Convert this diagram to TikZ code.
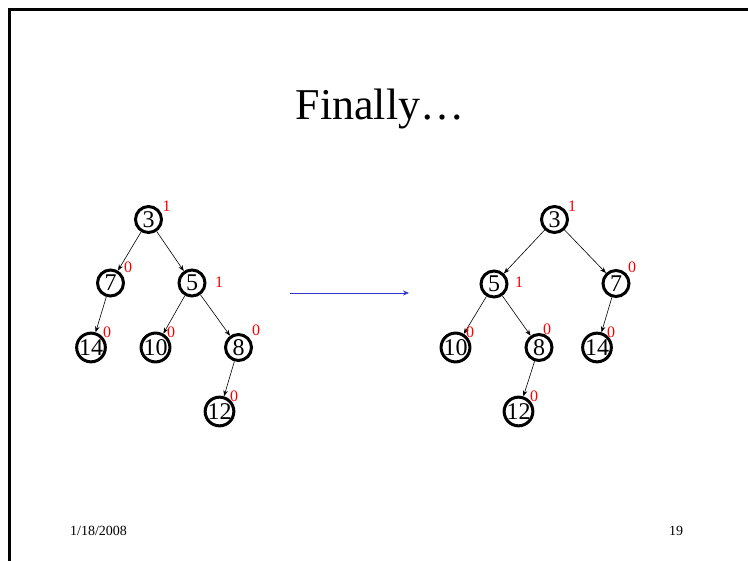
\documentclass[tikz,border=0pt]{standalone}
\usepackage{fontspec}
\setmainfont{Liberation Serif}
\usetikzlibrary{arrows.meta}
\definecolor{arrowblue}{RGB}{51,51,204}
\tikzset{
  tnode/.style={circle,draw=black,line width=3pt,minimum size=26pt,inner sep=0pt,font=\fontsize{24}{24}\selectfont},
  bal/.style={text=red,inner sep=0pt,font=\fontsize{16}{16}\selectfont},
  tedge/.style={draw=black,line width=0.6pt,-{Stealth[length=6pt,width=4.5pt]}},
  frameline/.style={draw=black,line width=2.4pt}
}
\begin{document}
\begin{tikzpicture}[x=1pt,y=-1pt]
\useasboundingbox (0,0) rectangle (748,561);
% frame
\coordinate (f1) at (9.5,561);
\coordinate (f2) at (9.5,9.5);
\coordinate (f3) at (748,9.5);
\draw[frameline] (f1) -- (f2) -- (f3);
% title
\node[anchor=base,inner sep=0pt,font=\fontsize{44}{44}\selectfont] (title) at (380,120) {Finally…};
% left tree
\node[tnode] (L3) at (148.5,219.5) {3};
\node[tnode] (L7) at (110.5,283) {7};
\node[tnode] (L5) at (192,283) {5};
\node[tnode] (L14) at (91,347.5) {14};
\node[tnode] (L10) at (155.5,347.5) {10};
\node[tnode] (L8) at (238.5,347.5) {8};
\node[tnode] (L12) at (219.5,411.5) {12};
\draw[tedge] (L3) -- (L7);
\draw[tedge] (L3) -- (L5);
\draw[tedge] (L7) -- (L14);
\draw[tedge] (L5) -- (L10);
\draw[tedge] (L5) -- (L8);
\draw[tedge] (L8) -- (L12);
\node[bal] (bL3) at (166.5,206) {1};
\node[bal] (bL7) at (128,267) {0};
\node[bal] (bL5) at (219,282) {1};
\node[bal] (bL14) at (107,332) {0};
\node[bal] (bL10) at (171,332) {0};
\node[bal] (bL8) at (256,330) {0};
\node[bal] (bL12) at (234,396) {0};
% arrow
\coordinate (a1) at (290,293);
\coordinate (a2) at (409,293);
\draw[arrowblue,line width=0.8pt,-{Stealth[length=6pt,width=5pt]}] (a1) -- (a2);
% right tree
\node[tnode] (R3) at (554.5,219.5) {3};
\node[tnode] (R5) at (494,284) {5};
\node[tnode] (R7) at (616,283.5) {7};
\node[tnode] (R10) at (455.5,347.5) {10};
\node[tnode] (R8) at (539,347.5) {8};
\node[tnode] (R14) at (597,347.5) {14};
\node[tnode] (R12) at (518.5,411.5) {12};
\draw[tedge] (R3) -- (R5);
\draw[tedge] (R3) -- (R7);
\draw[tedge] (R5) -- (R10);
\draw[tedge] (R5) -- (R8);
\draw[tedge] (R7) -- (R14);
\draw[tedge] (R8) -- (R12);
\node[bal] (bR3) at (572,206) {1};
\node[bal] (bR7) at (632,267) {0};
\node[bal] (bR5) at (519,282) {1};
\node[bal] (bR10) at (470,332) {0};
\node[bal] (bR8) at (547,329) {0};
\node[bal] (bR14) at (611,332) {0};
\node[bal] (bR12) at (534,396) {0};
% footer
\node[anchor=base west,inner sep=0pt,font=\fontsize{14}{14}\selectfont] (date) at (70,536) {1/18/2008};
\node[anchor=base west,inner sep=0pt,font=\fontsize{14}{14}\selectfont] (page) at (669,536) {19};
\end{tikzpicture}
\end{document}
